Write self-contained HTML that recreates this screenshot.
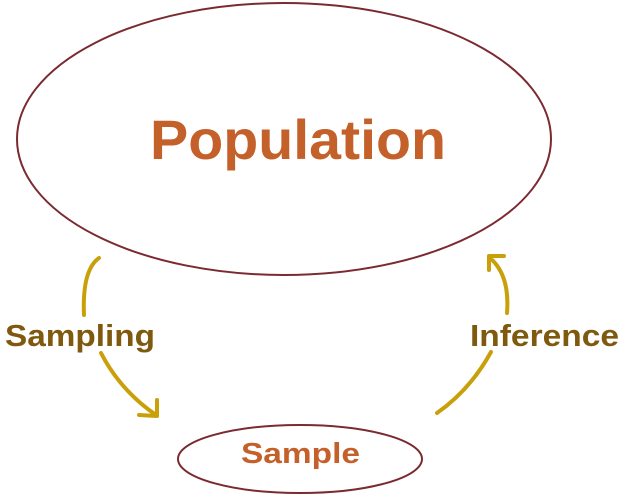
<!DOCTYPE html>
<html><head><style>
html,body{margin:0;padding:0;background:#fff;width:625px;height:499px;overflow:hidden}
svg text{font-family:"Liberation Sans",Arial,sans-serif;font-weight:bold}
</style></head><body>
<svg width="625" height="499" viewBox="0 0 625 499" xmlns="http://www.w3.org/2000/svg">
<ellipse cx="284" cy="139" rx="267" ry="136" fill="none" stroke="#7a2a30" stroke-width="2"/>
<ellipse cx="300" cy="459" rx="122" ry="34" fill="none" stroke="#7a2a30" stroke-width="2"/>
<text x="150" y="159" font-size="56" fill="#c4602a" textLength="296" lengthAdjust="spacingAndGlyphs">Population</text>
<text x="241" y="463" font-size="29" fill="#c4602a" textLength="119" lengthAdjust="spacingAndGlyphs">Sample</text>
<text x="5" y="346" font-size="31" fill="#7f5a0e" textLength="150" lengthAdjust="spacingAndGlyphs">Sampling</text>
<text x="470" y="346" font-size="31" fill="#7f5a0e" textLength="149" lengthAdjust="spacingAndGlyphs">Inference</text>
<g fill="none" stroke="#c9a00a" stroke-width="4" stroke-linecap="round" stroke-linejoin="round">
<path d="M99 258 Q82 270 84 315"/>
<path d="M101 353 Q120 390 156 415"/>
<path d="M139 415 L157 416 L157 400"/>
<path d="M490 258 Q510 275 507 313"/>
<path d="M491 352 Q470 390 437 413"/>
<path d="M504 256 L489 256 L489 270"/>
</g>
</svg>
</body></html>
